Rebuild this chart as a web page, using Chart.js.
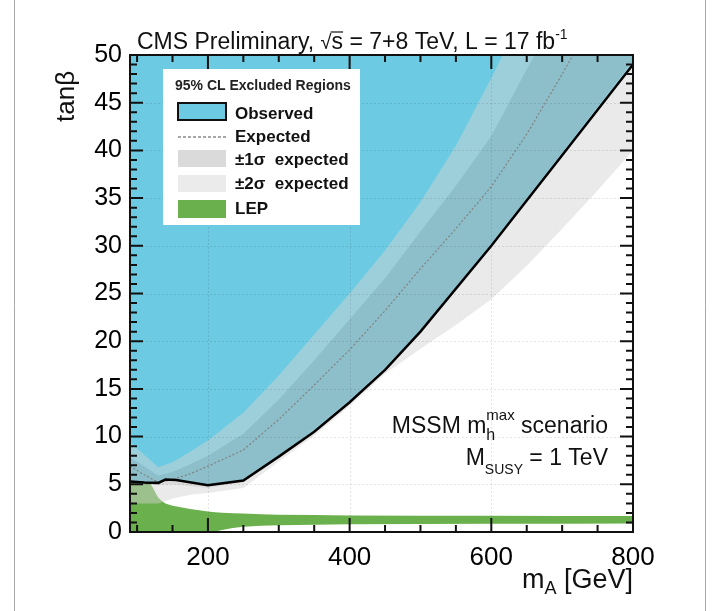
<!DOCTYPE html>
<html>
<head>
<meta charset="utf-8">
<script src="https://cdn.jsdelivr.net/npm/chart.js@4.4.1/dist/chart.umd.min.js"></script>
<style>
html, body { margin: 0; padding: 0; background: #fff; }
</style>
</head>
<body>
<canvas id="chart" width="720" height="611"></canvas>
<script>
const bandX = [90, 110, 130, 150, 175, 200, 250, 300, 350, 400, 450, 500, 550, 600, 650, 700, 750, 800];
const expY  = [6.9, 6.0, 5.2, 5.5, 6.1, 6.9, 8.6, 11.8, 15.4, 19.1, 23.2, 27.6, 31.8, 36.2, 41.7, 48.0, 54.5, 61.0];
const up1Y  = [7.8, 6.9, 5.9, 6.3, 7.1, 8.0, 10.3, 13.9, 18.0, 22.3, 26.6, 31.5, 36.3, 41.5, 48.5, 55.0, 62.0, 69.0];
const up2Y  = [9.4, 8.1, 6.8, 7.3, 8.4, 9.6, 12.5, 16.4, 20.7, 25.0, 29.5, 34.6, 40.5, 47.6, 55.0, 62.0, 69.0, 76.0];
const lo1Y  = [5.2, 5.0, 4.9, 5.0, 4.8, 4.6, 5.2, 8.0, 10.8, 13.9, 17.3, 21.2, 25.7, 30.3, 35.0, 39.8, 44.6, 49.4];
const lo2Y  = [3.0, 3.0, 3.0, 3.5, 3.9, 4.1, 4.6, 7.4, 10.1, 13.2, 16.6, 19.2, 21.7, 24.4, 27.9, 31.8, 35.8, 40.0];

const obsX = [90, 110, 130, 140, 155, 200, 250, 300, 350, 400, 450, 500, 600, 700, 800];
const obsY = [5.3, 5.2, 5.15, 5.5, 5.45, 4.9, 5.4, 7.9, 10.5, 13.6, 17.0, 21.0, 30.0, 39.5, 49.0];

const lepX   = [90, 110, 118, 122, 126, 130, 135, 140, 150, 175, 200, 210, 220, 235, 250, 275, 300, 350, 400, 500, 600, 700, 800];
const lepHiY = [5.3, 5.25, 5.1, 4.7, 4.1, 3.6, 3.25, 3.0, 2.75, 2.4, 2.15, 2.08, 2.02, 1.97, 1.93, 1.86, 1.82, 1.77, 1.74, 1.71, 1.7, 1.69, 1.68];
const lepLoY = [0, 0, 0, 0, 0, 0, 0, 0, 0, 0, 0, 0.05, 0.2, 0.42, 0.55, 0.66, 0.72, 0.77, 0.8, 0.84, 0.86, 0.87, 0.88];

const xTickLabels = [200, 400, 600, 800];
const yTickLabels = [0, 5, 10, 15, 20, 25, 30, 35, 40, 45, 50];
const legendLabels = ['Observed', 'Expected', '\u00b11\u03c3  expected', '\u00b12\u03c3  expected', 'LEP'];

const FONT = '"Liberation Sans", Arial, Helvetica, sans-serif';
const cyan = '#6ccbe2';
const green = '#6ab04c';
const band1Fill = 'rgba(178,178,178,0.48)';
const band2Fill = 'rgba(212,212,212,0.48)';
const none = 'rgba(0,0,0,0)';

function pts(xs, ys) {
    return xs.map((x, i) => ({ x: x, y: ys[i] }));
}

// draw a run of text pieces: [text, size, dy]
function richText(ctx, parts, x, y, align) {
    let w = 0;
    parts.forEach(p => {
        ctx.font = p[1] + 'px ' + FONT;
        p.w = ctx.measureText(p[0]).width;
        w += p.adv === undefined ? p.w : p.adv;
    });
    let cx = align === 'right' ? x - w : x;
    ctx.textAlign = 'left';
    ctx.textBaseline = 'alphabetic';
    parts.forEach(p => {
        ctx.font = p[1] + 'px ' + FONT;
        ctx.fillText(p[0], cx, y + (p[2] || 0));
        cx += p.adv === undefined ? p.w : p.adv;
    });
}

const decor = {
    id: 'decor',
    beforeDraw(chart) {
        const ctx = chart.ctx;
        ctx.save();
        ctx.fillStyle = '#fff';
        ctx.fillRect(0, 0, chart.width, chart.height);
        ctx.strokeStyle = '#a8a8a8';
        ctx.lineWidth = 1;
        ctx.beginPath();
        ctx.moveTo(14.5, 0); ctx.lineTo(14.5, chart.height);
        ctx.moveTo(705.5, 0); ctx.lineTo(705.5, chart.height);
        ctx.stroke();
        ctx.restore();
    },
    afterDatasetsDraw(chart) {
        // faint dotted grid
        const ctx = chart.ctx;
        const a = chart.chartArea;
        const xs = chart.scales.x, ys = chart.scales.y;
        ctx.save();
        ctx.strokeStyle = 'rgba(0,0,0,0.10)';
        ctx.lineWidth = 1;
        ctx.setLineDash([2, 2]);
        ctx.beginPath();
        xTickLabels.forEach(v => {
            const px = Math.round(xs.getPixelForValue(v)) + 0.5;
            ctx.moveTo(px, a.top); ctx.lineTo(px, a.bottom);
        });
        yTickLabels.forEach(v => {
            const py = Math.round(ys.getPixelForValue(v)) + 0.5;
            ctx.moveTo(a.left, py); ctx.lineTo(a.right, py);
        });
        ctx.stroke();
        ctx.restore();
    },
    afterDraw(chart) {
        const ctx = chart.ctx;
        const a = chart.chartArea;
        const xs = chart.scales.x, ys = chart.scales.y;
        ctx.save();

        // ticks inside the frame
        ctx.strokeStyle = '#111';
        ctx.lineWidth = 2;
        ctx.beginPath();
        for (let v = 0; v <= 50; v++) {
            const len = v % 5 === 0 ? 13 : 7;
            const py = ys.getPixelForValue(v);
            ctx.moveTo(a.left, py); ctx.lineTo(a.left + len, py);
            ctx.moveTo(a.right, py); ctx.lineTo(a.right - len, py);
        }
        for (let v = 100; v <= 800; v += 50) {
            const len = v % 200 === 0 ? 14 : 7;
            const px = xs.getPixelForValue(v);
            ctx.moveTo(px, a.bottom); ctx.lineTo(px, a.bottom - len);
            ctx.moveTo(px, a.top); ctx.lineTo(px, a.top + len);
        }
        ctx.stroke();
        ctx.lineWidth = 2;
        ctx.strokeRect(a.left, a.top, a.right - a.left, a.bottom - a.top);

        // legend box
        ctx.fillStyle = '#fff';
        ctx.fillRect(163, 69, 197, 156);
        ctx.fillStyle = '#222';
        ctx.font = 'bold 14px ' + FONT;
        ctx.textAlign = 'left';
        ctx.textBaseline = 'alphabetic';
        ctx.fillText('95% CL Excluded Regions', 175, 90);

        ctx.fillStyle = cyan;
        ctx.fillRect(178, 103, 48, 17);
        ctx.strokeStyle = '#111';
        ctx.lineWidth = 2;
        ctx.strokeRect(178, 103, 48, 17);

        ctx.strokeStyle = '#8a8a8a';
        ctx.lineWidth = 1.3;
        ctx.setLineDash([3, 2]);
        ctx.beginPath();
        ctx.moveTo(178, 137); ctx.lineTo(226, 137);
        ctx.stroke();
        ctx.setLineDash([]);

        ctx.fillStyle = '#dadada';
        ctx.fillRect(178, 150, 48, 17);
        ctx.fillStyle = '#ebebeb';
        ctx.fillRect(178, 175, 48, 17);
        ctx.fillStyle = green;
        ctx.fillRect(178, 200, 48, 18);

        ctx.fillStyle = '#111';
        ctx.font = 'bold 17px ' + FONT;
        const baselines = [119, 142, 165, 189, 214];
        legendLabels.forEach((t, i) => ctx.fillText(t, 235, baselines[i]));

        // header
        ctx.fillStyle = '#111';
        const hx = 137, hy = 49;
        let cx = hx;
        const seg = (t, size, dy) => {
            ctx.font = size + 'px ' + FONT;
            ctx.fillText(t, cx, hy + (dy || 0));
            const w = ctx.measureText(t).width;
            cx += w;
            return w;
        };
        seg('CMS Preliminary, ', 23);
        seg('\u221a', 20);
        const sx = cx;
        const sw = seg('s', 23);
        ctx.lineWidth = 1.2;
        ctx.strokeStyle = '#111';
        ctx.beginPath();
        ctx.moveTo(sx - 1, hy - 17); ctx.lineTo(sx + sw, hy - 17);
        ctx.stroke();
        seg(' = 7+8 TeV, L = 17 fb', 23);
        seg('-1', 14, -10);

        // y axis title
        ctx.save();
        ctx.translate(74, 122);
        ctx.rotate(-Math.PI / 2);
        ctx.font = '26px ' + FONT;
        ctx.textBaseline = 'alphabetic';
        ctx.fillText('tan\u03b2', 0, 0);
        ctx.restore();

        // x axis title
        const t1 = ['m', 27, 0], t2 = ['A', 18, 6], t3 = [' [GeV]', 27, 0];
        richText(ctx, [t1, t2, t3], a.right, 588, 'right');

        // scenario text
        const p1 = ['MSSM m', 23, 0], p2 = ['h', 16, 7], p3 = ['max', 15, -13], p4 = [' scenario', 23, 0];
        p2.adv = 0;
        ctx.font = '15px ' + FONT;
        p3.adv = ctx.measureText('max').width;
        richText(ctx, [p1, p2, p3, p4], 608, 433, 'right');
        const q1 = ['M', 23, 0], q2 = ['SUSY', 14, 9], q3 = [' = 1 TeV', 23, 0];
        richText(ctx, [q1, q2, q3], 608, 465, 'right');

        ctx.restore();
    }
};

const chart = new Chart(document.getElementById('chart'), {
    type: 'line',
    data: {
        datasets: [
            { label: 'up2', data: pts(bandX, up2Y), fill: '+1', backgroundColor: band2Fill, borderColor: none, borderWidth: 0, order: 5 },
            { label: 'up1', data: pts(bandX, up1Y), fill: '+1', backgroundColor: band1Fill, borderColor: none, borderWidth: 0, order: 5 },
            { label: 'lo1', data: pts(bandX, lo1Y), fill: '+1', backgroundColor: band2Fill, borderColor: none, borderWidth: 0, order: 5 },
            { label: 'lo2', data: pts(bandX, lo2Y), fill: false, borderColor: none, borderWidth: 0, order: 5 },
            { label: 'obsArea', data: pts(obsX, obsY), fill: 'end', backgroundColor: cyan, borderColor: none, borderWidth: 0, order: 10 },
            { label: 'lepHi', data: pts(lepX, lepHiY), fill: '+1', backgroundColor: green, borderColor: none, borderWidth: 0, order: 9 },
            { label: 'lepLo', data: pts(lepX, lepLoY), fill: false, borderColor: none, borderWidth: 0, order: 9 },
            { label: 'Expected', data: pts(bandX, expY), fill: false, borderColor: '#808080', borderWidth: 1.2, borderDash: [2, 2], order: 2 },
            { label: 'Observed', data: pts(obsX, obsY), fill: false, borderColor: '#000', borderWidth: 2.5, order: 1 }
        ]
    },
    options: {
        responsive: false,
        animation: false,
        layout: { padding: { top: 55, right: 87, left: 0, bottom: 0 } },
        elements: { point: { radius: 0 }, line: { tension: 0 } },
        plugins: {
            legend: { display: false },
            tooltip: { enabled: false },
            filler: { propagate: false }
        },
        scales: {
            x: {
                type: 'linear',
                min: 90,
                max: 800,
                grid: { display: false, drawTicks: false },
                border: { display: false },
                afterBuildTicks: s => { s.ticks = xTickLabels.map(v => ({ value: v })); },
                afterFit: s => { s.height = 79; },
                ticks: { font: { size: 26, family: FONT }, color: '#000', padding: 10, maxRotation: 0, autoSkip: false }
            },
            y: {
                type: 'linear',
                min: 0,
                max: 50,
                grid: { display: false, drawTicks: false },
                border: { display: false },
                afterBuildTicks: s => { s.ticks = yTickLabels.map(v => ({ value: v })); },
                afterFit: s => { s.width = 130; },
                ticks: { font: { size: 25, family: FONT }, color: '#000', padding: 8, autoSkip: false }
            }
        }
    },
    plugins: [decor]
});
</script>
</body>
</html>
